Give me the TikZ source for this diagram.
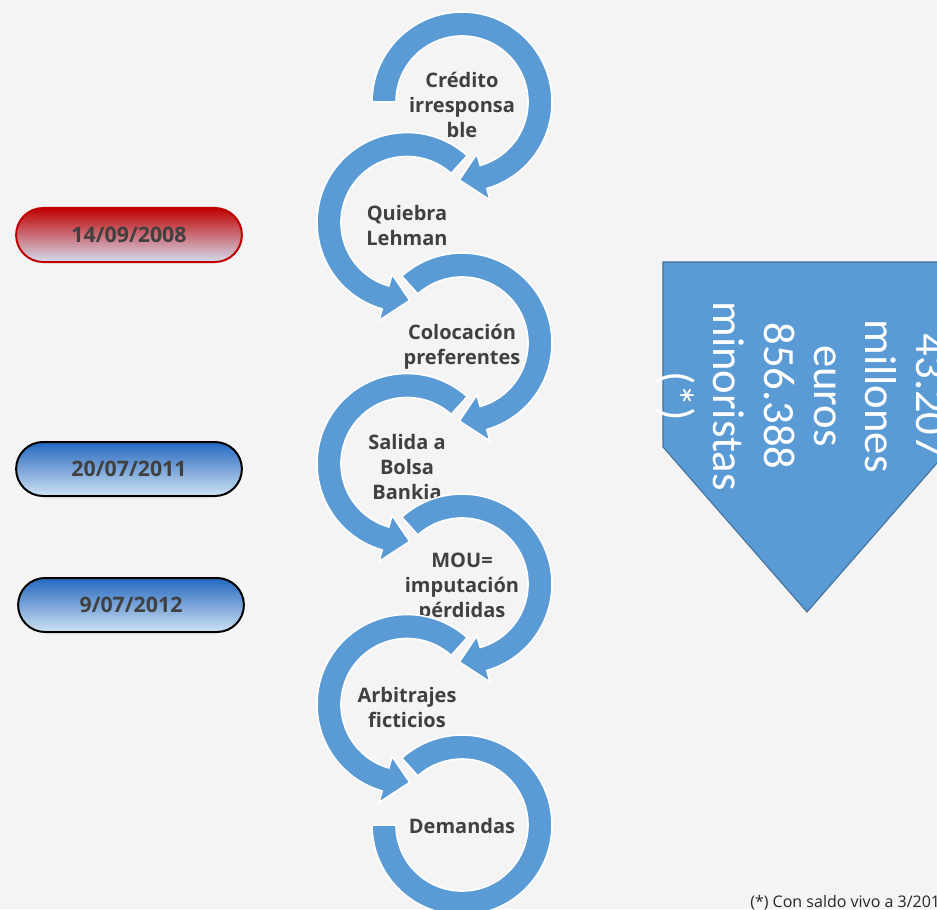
\documentclass[tikz,border=0pt]{standalone}
\usepackage{fontspec}
\setmainfont{Open Sans}
\newfontfamily\calib{Carlito}
\usepackage{tikz}
\usepackage{xcolor}
\usetikzlibrary{shapes.misc}

\definecolor{arcblue}{HTML}{5B9BD5}
\definecolor{edgeblue}{HTML}{41719C}
\definecolor{txtgray}{HTML}{404040}
\definecolor{bgcol}{HTML}{F4F4F4}
\definecolor{pillred}{HTML}{C00000}
\definecolor{pillrose}{HTML}{C87C88}
\definecolor{pilllow}{HTML}{D3DDEF}
\definecolor{pilltop}{HTML}{2468C0}
\definecolor{pillbot}{HTML}{CFE2F3}

\begin{document}
\begin{tikzpicture}[x=0.75pt, y=0.75pt,
  band/.style={fill=arcblue, draw=white, line width=1.2pt},
  steplabel/.style={text=txtgray, align=center, font=\bfseries\fontsize{15}{18.75}\selectfont},
  pill/.style={rounded rectangle, draw, line width=1.5pt, minimum width=176pt, minimum height=40.5pt,
    text=txtgray, font=\bfseries\fontsize{16}{19}\selectfont},
  redpill/.style={pill, draw=pillred, top color=pillred, middle color=pillrose, bottom color=pilllow},
  bluepill/.style={pill, draw=black, top color=pilltop, bottom color=pillbot}]
  \useasboundingbox (0,0) rectangle (937,-909);
  \clip (0,0) rectangle (937,-909);
  \fill[bgcol] (0,0) rectangle (937,-909);

  % bending arrows, each one drawn over the text before it
  \foreach \k/\cx/\cy/\sa/\ea/\d/\txt in {
      1/462/102/180/-74/-18/{Cr\'edito\\irresponsa\\ble},
      2/407/222.5/48/254/18/{Quiebra\\Lehman},
      3/462/343/132/-74/-18/{Colocaci\'on\\preferentes},
      4/407/463.5/48/254/18/{Salida a\\Bolsa\\Bankia},
      5/462/584/132/-74/-18/{MOU=\\imputaci\'on\\p\'erdidas},
      6/407/704.5/48/254/18/{Arbitrajes\\ficticios}} {
    \coordinate (c\k) at (\cx,-\cy);
    \filldraw[band] ([shift={(\sa:90)}]c\k) arc[start angle=\sa, end angle=\ea, radius=90]
      -- ([shift={(\ea:102)}]c\k) -- ([shift={({\ea+(\d)}:78)}]c\k)
      -- ([shift={(\ea:54)}]c\k) -- ([shift={(\ea:66)}]c\k)
      arc[start angle=\ea, end angle=\sa, radius=66] -- cycle;
    \node[steplabel] (lab\k) at ([yshift=-2.5]c\k) {\txt};
  }

  % last one has no head
  \coordinate (c7) at (462,-825);
  \filldraw[band] ([shift={(132:90)}]c7) arc[start angle=132, end angle=-180, radius=90]
    -- ([shift={(-180:66)}]c7) arc[start angle=-180, end angle=132, radius=66] -- cycle;
  \node[steplabel] (lab7) at ([yshift=-1]c7) {Demandas};

  % dates
  \node[redpill] (d2008) at (129,-235) {14/09/2008};
  \node[bluepill] (d2011) at (129,-469) {20/07/2011};
  \node[bluepill] (d2012) at (131,-605) {9/07/2012};

  % figures
  \filldraw[fill=arcblue, draw=edgeblue, line width=0.8pt]
    (663,-262) -- (951,-262) -- (951,-447) -- (807,-612) -- (663,-447) -- cycle;
  \node[rotate=-90, text=white, align=center, font=\calib\fontsize{33.5}{38}\selectfont]
    (cifras) at (801,-396) {43.207\\millones\\euros\\856.388\\minoristas\\(*)};

  \node[anchor=base west, inner sep=0pt, text=black!85, font=\fontsize{12}{14}\selectfont]
    (nota) at (750,-907) {(*) Con saldo vivo a 3/2013};
\end{tikzpicture}
\end{document}
